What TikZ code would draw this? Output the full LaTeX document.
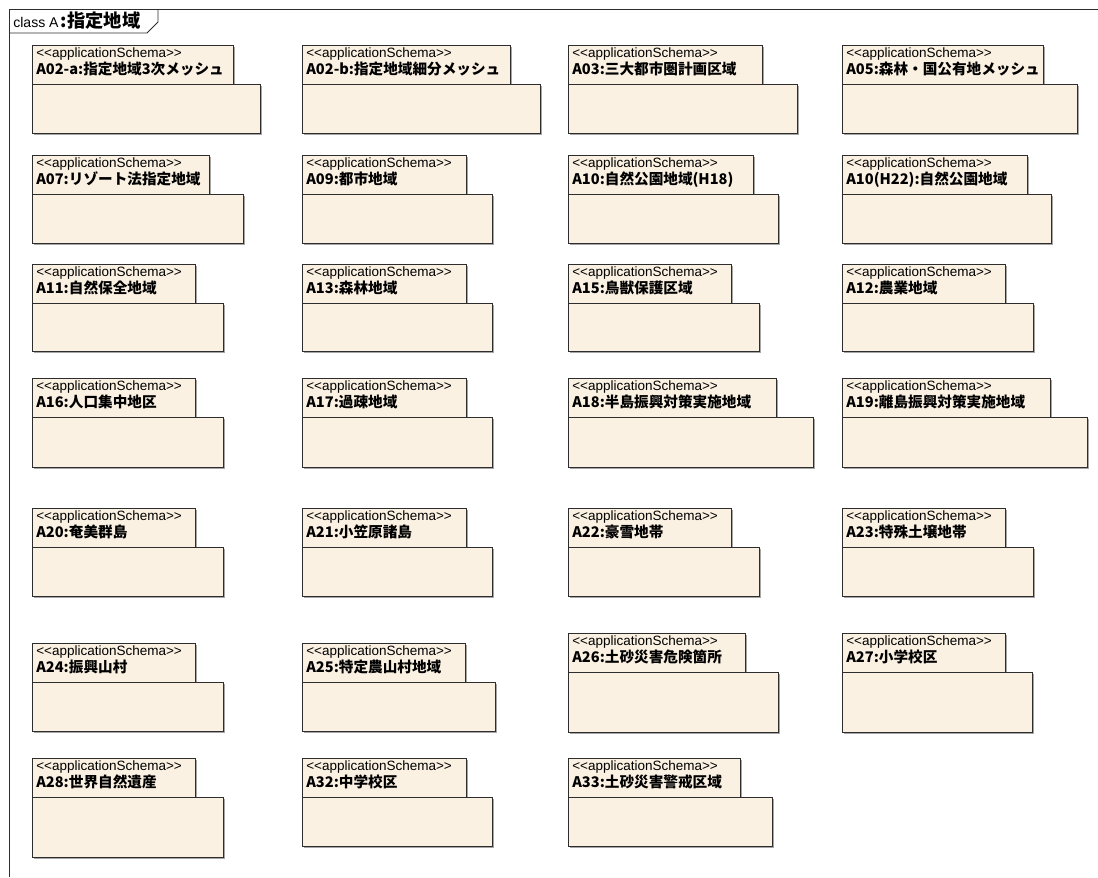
\documentclass[tikz,border=0pt]{standalone}
\usepackage{fontspec}
\setmainfont{Liberation Sans}
\newfontfamily\jpfont{Noto Sans CJK JP}
\usetikzlibrary{shadows}
\definecolor{pkgfill}{RGB}{251,241,226}
\definecolor{pkgline}{RGB}{45,45,45}
\begin{document}
\begin{tikzpicture}[x=0.025cm, y=-0.025cm,
    pkgtab/.style={draw=pkgline, line width=0.7pt, fill=pkgfill, anchor=north west,
        inner sep=0pt, outer sep=0pt, minimum height=39*0.025cm,
        drop shadow={shadow xshift=0.05cm, shadow yshift=-0.05cm, fill=black!35, opacity=1}},
    pkgbody/.style={pkgtab},
    stereo/.style={anchor=base west, inner sep=0pt, font=\fontsize{9.6}{11}\selectfont},
    pkglabel/.style={anchor=base west, inner sep=0pt, font=\jpfont\bfseries\fontsize{10.4}{12}\selectfont}]
    \useasboundingbox (0,0) rectangle (1098,877);

    % 1. Khung class A (frame) and its name tab
    \draw[pkgline, line width=0.7pt] (1098,9) -- (9,9) -- (9,877);
    \draw[pkgline, line width=0.7pt] (9,33) -- (147,33) -- (158,22) -- (158,9);
    \node[anchor=base west, inner sep=0pt] (title) at (13,27)
        {\fontsize{10}{12}\selectfont class A\,{\jpfont\bfseries\fontsize{13}{14}\selectfont :指定地域}};

    % 2. Packages: name / x / y / tab width / body width / body height / label
    \foreach \pn/\px/\py/\tw/\bw/\bh/\lbl in {
        a02a/32/45/201/228/49/A02-a:指定地域3次メッシュ,
        a02b/302/45/208/238/49/A02-b:指定地域細分メッシュ,
        a03/568/45/194/229/49/A03:三大都市圏計画区域,
        a05/842/45/201/235/49/A05:森林・国公有地メッシュ,
        a07/32/155/177/211/49/A07:リゾート法指定地域,
        a09/302/155/164/190/49/A09:都市地域,
        a10/568/155/185/210/49/A10:自然公園地域(H18),
        a10h/842/155/185/209/49/A10(H22):自然公園地域,
        a11/32/264/163/191/48/A11:自然保全地域,
        a13/302/264/164/190/48/A13:森林地域,
        a15/568/264/163/191/48/A15:鳥獣保護区域,
        a12/842/264/163/191/48/A12:農業地域,
        a16/32/378/163/191/50/A16:人口集中地区,
        a17/302/378/164/190/50/A17:過疎地域,
        a18/568/378/208/245/50/A18:半島振興対策実施地域,
        a19/842/378/208/245/50/A19:離島振興対策実施地域,
        a20/32/508/163/191/49/A20:奄美群島,
        a21/302/508/164/190/49/A21:小笠原諸島,
        a22/568/508/163/191/49/A22:豪雪地帯,
        a23/842/508/163/191/49/A23:特殊土壌地帯,
        a24/32/643/163/191/49/A24:振興山村,
        a25/302/643/163/193/49/A25:特定農山村地域,
        a26/568/633/177/210/60/A26:土砂災害危険箇所,
        a27/842/633/163/190/60/A27:小学校区,
        a28/32/758/163/191/60/A28:世界自然遺産,
        a32/302/758/164/190/49/A32:中学校区,
        a33/568/758/172/204/49/A33:土砂災害警戒区域} {
        \node[pkgtab, minimum width=\tw*0.025cm] (\pn-tab) at (\px,\py) {};
        \node[pkgbody, minimum width=\bw*0.025cm, minimum height=\bh*0.025cm]
            (\pn-body) at (\pn-tab.south west) {};
        \node[stereo] (\pn-st) at ([shift={(4,12)}]\pn-tab.north west)
            {<{}<applicationSchema>{}>};
        \node[pkglabel] (\pn-name) at ([shift={(4,29)}]\pn-tab.north west) {\lbl};
    }

\end{tikzpicture}
\end{document}
